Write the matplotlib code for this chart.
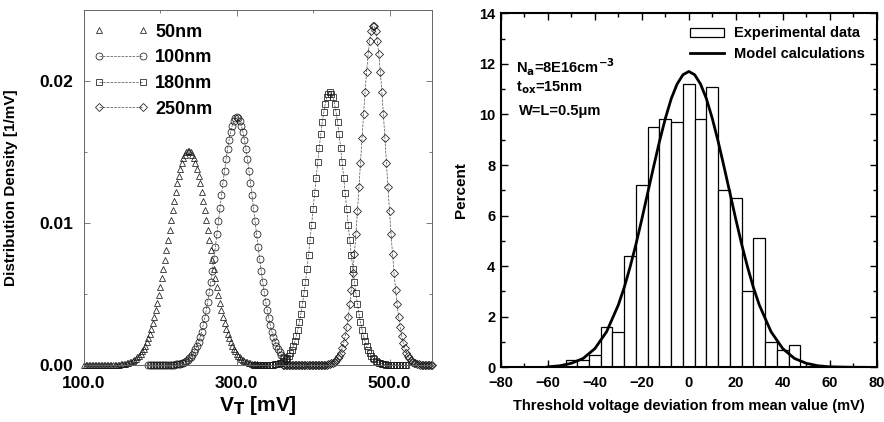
import numpy as np
import matplotlib
matplotlib.use("Agg")
import matplotlib.pyplot as plt
from matplotlib.patches import Patch
from matplotlib.lines import Line2D
from matplotlib.ticker import MultipleLocator, FixedLocator, FormatStrFormatter

plt.rcParams['font.family'] = ['Liberation Sans', 'DejaVu Sans']
plt.rcParams['font.weight'] = 'bold'
plt.rcParams['mathtext.default'] = 'bf'

# ---- left panel: V_T distributions for four channel lengths (2 mV steps) ----
labels_vt = ["50nm", "100nm", "180nm", "250nm"]

vt_50 = np.arange(100, 341, 2)
dens_50 = [0] * 21 + [
    0.00002, 0.00003, 0.00003, 0.00004, 0.00006, 0.00007, 0.00009, 0.00012,
    0.00015, 0.00019, 0.00024, 0.00029, 0.00036, 0.00045, 0.00055, 0.00066,
    0.0008, 0.00096, 0.00115, 0.00137, 0.00161, 0.00189, 0.0022, 0.00256,
    0.00295, 0.00338, 0.00385, 0.00436, 0.0049, 0.00549, 0.0061, 0.00675,
    0.00742, 0.00811, 0.00881, 0.00951, 0.01021, 0.0109, 0.01156, 0.01219,
    0.01279, 0.01333, 0.01381, 0.01422, 0.01456, 0.01482, 0.0150, 0.0151,
    0.0151, 0.0150, 0.01482, 0.01456, 0.01422, 0.01381, 0.01333, 0.01279,
    0.01219, 0.01156, 0.0109, 0.01021, 0.00951, 0.00881, 0.00811, 0.00742,
    0.00675, 0.0061, 0.00549, 0.0049, 0.00436, 0.00385, 0.00338, 0.00295,
    0.00256, 0.0022, 0.00189, 0.00161, 0.00137, 0.00115, 0.00096, 0.0008,
    0.00066, 0.00055, 0.00045, 0.00036, 0.00029, 0.00024, 0.00019, 0.00015,
    0.00012, 0.00009, 0.00007, 0.00006, 0.00004, 0.00003, 0.00003, 0.00002,
    0.00001, 0.00001, 0, 0]

vt_100 = np.arange(184, 365, 2)
dens_100 = [0] * 12 + [
    0.00001, 0.00001, 0.00001, 0.00002, 0.00002, 0.00003, 0.00004, 0.00006,
    0.00007, 0.0001, 0.00013, 0.00017, 0.00022, 0.00028, 0.00036, 0.00046,
    0.00058, 0.00073, 0.0009, 0.00111, 0.00135, 0.00164, 0.00198, 0.00236,
    0.0028, 0.00329, 0.00385, 0.00446, 0.00513, 0.00585, 0.00663, 0.00745,
    0.00832, 0.00921, 0.01012, 0.01104, 0.01196, 0.01285, 0.0137, 0.0145,
    0.01523, 0.01588, 0.01643, 0.01687, 0.01719, 0.01738, 0.01745, 0.01738,
    0.01719, 0.01687, 0.01643, 0.01588, 0.01523, 0.0145, 0.0137, 0.01285,
    0.01196, 0.01104, 0.01012, 0.00921, 0.00832, 0.00745, 0.00663, 0.00585,
    0.00513, 0.00446, 0.00385, 0.00329, 0.0028, 0.00236, 0.00198, 0.00164,
    0.00135, 0.00111, 0.0009, 0.00073, 0.00058, 0.00046, 0.00036]

vt_180 = np.arange(322, 523, 2)
dens_180 = [0] * 8 + [
    0.00001, 0.00001, 0.00001, 0.00002, 0.00002, 0.00003, 0.00005, 0.00007,
    0.00009, 0.00012, 0.00017, 0.00023, 0.0003, 0.00039, 0.00051, 0.00066,
    0.00084, 0.00107, 0.00134, 0.00166, 0.00205, 0.0025, 0.00302, 0.00362,
    0.00429, 0.00505, 0.00588, 0.00678, 0.00776, 0.00879, 0.00987, 0.01097,
    0.01209, 0.0132, 0.01428, 0.01531, 0.01625, 0.0171, 0.01783, 0.01842,
    0.01885, 0.01911, 0.0192, 0.01911, 0.01885, 0.01842, 0.01783, 0.0171,
    0.01625, 0.01531, 0.01428, 0.0132, 0.01209, 0.01097, 0.00987, 0.00879,
    0.00776, 0.00678, 0.00588, 0.00505, 0.00429, 0.00362, 0.00302, 0.0025,
    0.00205, 0.00166, 0.00134, 0.00107, 0.00084, 0.00066, 0.00051, 0.00039,
    0.0003, 0.00023, 0.00017, 0.00012, 0.00009, 0.00007, 0.00005, 0.00003,
    0.00002, 0.00002, 0.00001, 0.00001, 0.00001] + [0] * 8

vt_250 = np.arange(360, 557, 2)
dens_250 = [0] * 26 + [
    0.00001, 0.00001, 0.00002, 0.00003, 0.00005, 0.00007, 0.00011, 0.00016,
    0.00023, 0.00032, 0.00046, 0.00063, 0.00087, 0.00117, 0.00156, 0.00205,
    0.00266, 0.00339, 0.00427, 0.00529, 0.00647, 0.00779, 0.00926, 0.01084,
    0.01251, 0.01424, 0.01597, 0.01765, 0.01924, 0.02067, 0.02189, 0.02285,
    0.02352, 0.02386, 0.02386, 0.02352, 0.02285, 0.02189, 0.02067, 0.01924,
    0.01765, 0.01597, 0.01424, 0.01251, 0.01084, 0.00926, 0.00779, 0.00647,
    0.00529, 0.00427, 0.00339, 0.00266, 0.00205, 0.00156, 0.00117, 0.00087,
    0.00063, 0.00046, 0.00032, 0.00023, 0.00016, 0.00011, 0.00007, 0.00005,
    0.00003, 0.00002, 0.00001, 0.00001] + [0] * 5

# ---- right panel: histogram of threshold voltage deviation ----
dev_centers = [-50, -45, -40, -35, -30, -25, -20, -15, -10, -5,
               0, 5, 10, 15, 20, 25, 30, 35, 40, 45]
dev_percent = [0.3, 0.3, 0.5, 1.6, 1.4, 4.4, 7.2, 9.5, 9.8, 9.7,
               11.2, 9.8, 11.1, 7.0, 6.7, 3.0, 5.1, 1.0, 0.7, 0.9]

model_x = [-60, -55, -50, -45, -40, -35, -30, -27.5, -25, -22.5, -20, -17.5,
           -15, -12.5, -10, -7.5, -5, -2.5, 0, 2.5, 5, 7.5, 10, 12.5, 15,
           17.5, 20, 22.5, 25, 27.5, 30, 35, 40, 45, 50, 55, 60, 65, 70, 75]
model_y = [0.02, 0.06, 0.16, 0.35, 0.74, 1.41, 2.47, 3.16, 3.97, 4.87, 5.86, 6.9,
           7.93, 8.93, 9.84, 10.62, 11.2, 11.57, 11.7, 11.57, 11.2, 10.62, 9.84,
           8.93, 7.93, 6.9, 5.86, 4.87, 3.97, 3.16, 2.47, 1.41, 0.74, 0.35, 0.16,
           0.06, 0.02, 0.01, 0.0, 0.0]

fig = plt.figure(figsize=(8.84, 4.22), dpi=100)

# ─────────────────────────────────────────────────────────
# left: distribution density
# ─────────────────────────────────────────────────────────
ax1 = fig.add_axes([0.095, 0.135, 0.394, 0.841])
styles = [
    (vt_50, dens_50, '^', 'none', 5),
    (vt_100, dens_100, 'o', '--', 5),
    (vt_180, dens_180, 's', '--', 4.5),
    (vt_250, dens_250, 'D', '--', 4),
]
for (x, y, m, ls, ms), lab in zip(styles, labels_vt):
    ax1.plot(x, y, linestyle=ls, color='0.3', linewidth=0.5, marker=m,
             markersize=ms, markerfacecolor='none', markeredgecolor='0.1',
             markeredgewidth=0.55, label=lab, clip_on=False)

ax1.set_xlim(100, 556)
ax1.set_ylim(0, 0.025)
ax1.xaxis.set_major_locator(FixedLocator([100, 300, 500]))
ax1.xaxis.set_minor_locator(FixedLocator([200, 400]))
ax1.yaxis.set_major_locator(MultipleLocator(0.01))
ax1.yaxis.set_minor_locator(MultipleLocator(0.005))
ax1.xaxis.set_major_formatter(FormatStrFormatter('%.1f'))
ax1.yaxis.set_major_formatter(FormatStrFormatter('%.2f'))
ax1.tick_params(which='both', direction='in', top=True, right=True,
                labelsize=12.5, width=0.6, color='0.4')
ax1.tick_params(which='major', length=4)
ax1.tick_params(axis='x', which='major', pad=8)
ax1.tick_params(axis='y', which='major', pad=8)
ax1.tick_params(which='minor', length=2)
for sp in ax1.spines.values():
    sp.set_linewidth(0.7)
    sp.set_color('0.4')
ax1.set_xlabel(r'V$_\mathbf{T}$ [mV]', fontsize=15, fontweight='bold', labelpad=2)
ax1.set_ylabel('Distribution Density [1/mV]', fontsize=11, fontweight='bold')
ax1.yaxis.set_label_coords(-0.19, 0.5)

ax1.legend(loc='upper left', bbox_to_anchor=(-0.018, 1.008), frameon=False,
           numpoints=2, handlelength=3.0, handletextpad=0.4,
           labelspacing=0.48, prop={'size': 13, 'weight': 'bold'})

# ─────────────────────────────────────────────────────────
# right: histogram + model
# ─────────────────────────────────────────────────────────
ax2 = fig.add_axes([0.5667, 0.1296, 0.425, 0.8389])
ax2.bar(dev_centers, dev_percent, width=5, facecolor='white', edgecolor='black',
        linewidth=0.9, zorder=2)
ax2.plot(model_x, model_y, color='black', linewidth=2, zorder=3)

ax2.set_xlim(-80, 80)
ax2.set_ylim(0, 14)
ax2.xaxis.set_major_locator(MultipleLocator(20))
ax2.xaxis.set_minor_locator(MultipleLocator(10))
ax2.yaxis.set_major_locator(MultipleLocator(2))
ax2.yaxis.set_minor_locator(MultipleLocator(1))
ax2.tick_params(which='both', direction='in', top=True, right=True,
                labelsize=10.5, width=1)
ax2.tick_params(which='major', length=5, pad=4)
ax2.tick_params(axis='x', which='major', pad=6)
ax2.tick_params(which='minor', length=3)
for sp in ax2.spines.values():
    sp.set_linewidth(1.5)
ax2.set_xlabel('Threshold voltage deviation from mean value (mV)', fontsize=10.5,
               fontweight='bold', labelpad=7)
ax2.set_ylabel('Percent', fontsize=11, fontweight='bold', labelpad=8)

ax2.text(-73.5, 11.85, r'N$_\mathbf{a}$=8E16cm$^{\mathbf{-3}}$', fontsize=10.5,
         fontweight='bold', va='center')
ax2.text(-73.5, 11.05, r't$_\mathbf{ox}$=15nm', fontsize=10.5, fontweight='bold',
         va='center')
ax2.text(-72.5, 10.15, 'W=L=0.5\u03bcm', fontsize=10.5, fontweight='bold',
         va='center')

handles2 = [Patch(facecolor='white', edgecolor='black', linewidth=0.9),
            Line2D([0], [0], color='black', linewidth=2)]
ax2.legend(handles2, ['Experimental data', 'Model calculations'],
           loc='upper right', bbox_to_anchor=(1.004, 1.0), frameon=False,
           handlelength=2.3, handleheight=0.6, handletextpad=0.7,
           labelspacing=0.45, prop={'size': 10.5, 'weight': 'bold'})

fig.savefig('out.png', dpi=100)
